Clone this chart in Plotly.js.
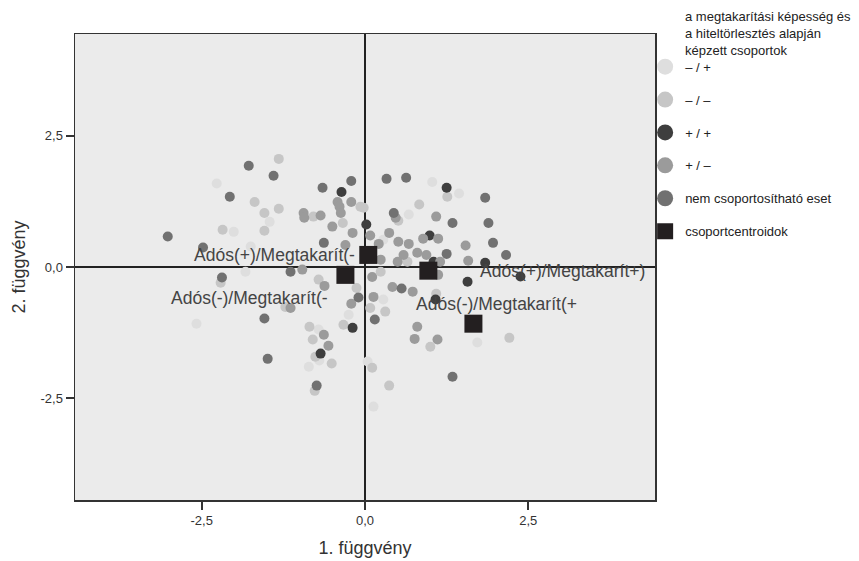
<!DOCTYPE html>
<html>
<head>
<meta charset="utf-8">
<script src="https://cdn.plot.ly/plotly-3.0.1.min.js"></script>
<style>html,body{margin:0;padding:0;background:#fff;}#chart{width:859px;height:561px;}</style>
</head>
<body>
<div id="chart"></div>
<script>
// Group names (legend)
const groupNames = ["\u2013 / +", "\u2013 / \u2013", "+ / +", "+ / \u2013", "nem csoportosítható eset", "csoportcentroidok"];

// – / +
const xMinusPlus = [-2.27,-1.46,-2.01,-1.75,1.03,1.44,0.67,0.28,-1.83,-2.58,-0.71,-0.70,-0.86,-0.25,0.28,1.72,0.04,0.13];
const yMinusPlus = [1.59,0.86,0.67,0.39,1.62,1.40,1.00,0.52,-0.09,-1.08,-1.19,-1.78,-1.90,-0.91,-0.62,-1.44,-1.80,-2.66];

// – / –
const xMinusMinus = [-1.32,-1.69,-1.32,-1.54,-1.54,-2.18,-0.79,-0.34,-0.07,1.26,-0.02,0.51,0.83,0.65,-2.21,-0.71,-1.22,-0.85,-0.80,-0.76,-0.51,-0.77,-0.33,1.09,0.08,0.31,1.00,2.21,0.11,0.37,-0.13,0.24];
const yMinusMinus = [2.06,1.24,1.11,1.03,0.69,0.71,0.96,0.84,1.15,1.34,1.13,0.88,1.19,0.10,-0.30,-0.24,-0.76,-1.14,-1.38,-1.71,-1.84,-2.36,-1.10,-0.51,-0.78,-0.85,-1.52,-1.35,-1.92,-2.26,-0.40,-0.09];

// + / +
const xPlusPlus = [-0.36,1.25,0.02,0.99,1.84,1.05,-0.68,-0.19,1.57,2.38,1.08];
const yPlusPlus = [1.43,1.51,0.81,0.60,0.08,0.10,-1.65,-1.16,-0.28,-0.18,-0.62];

// + / –
const xPlusMinus = [-0.94,-0.93,-0.68,-0.42,-0.39,-0.37,-0.21,-0.50,-0.19,-0.30,0.47,1.09,0.08,0.37,0.89,1.12,0.51,0.67,0.21,1.54,0.59,0.80,0.94,0.24,0.50,1.15,1.58,-0.96,-0.62,-1.14,-0.63,-0.56,-0.21,1.12,0.42,0.73,0.13,0.80,0.76,1.11,0.11];
const yPlusMinus = [1.03,0.94,0.98,1.24,1.15,1.03,1.24,0.77,0.65,0.42,0.94,0.96,0.60,0.65,0.54,0.54,0.48,0.44,0.44,0.41,0.23,0.27,0.23,0.14,0.10,0.10,0.12,-0.05,-0.36,-0.78,-1.29,-1.50,-0.70,-0.15,-0.38,-0.47,-0.57,-1.14,-1.37,-1.38,-0.19];

// nem csoportosítható eset
const xUngrouped = [-1.78,-1.40,-2.07,-3.02,-0.65,-0.21,-0.63,-2.48,0.33,0.63,1.84,0.44,1.34,1.89,1.96,1.25,2.16,-2.19,-1.14,-1.54,-1.49,-0.74,-0.10,0.56,0.15,1.34];
const yUngrouped = [1.93,1.74,1.34,0.58,1.51,1.64,0.46,0.37,1.68,1.70,1.32,1.03,0.84,0.84,0.46,0.25,0.23,-0.20,-0.09,-0.98,-1.75,-2.26,-0.58,-0.41,-1.00,-2.09];

// group centroids
const centroidX = [0.05, -0.30, 0.97, 1.66];
const centroidY = [0.23, -0.15, -0.07, -1.08];
const centroidLabels = ["Adós(+)/Megtakarít(-", "Adós(-)/Megtakarít(-", "Adós(+)/Megtakarít+)", "Adós(-)/Megtakarít(+"];

// axis ticks
const tickValues = [-2.5, 0, 2.5];
const tickLabels = ["-2,5", "0,0", "2,5"];

const colors = ["#dedede", "#c6c6c6", "#3e3e3e", "#9b9b9b", "#717171", "#231f20"];
const FONT = "Liberation Sans, Arial, sans-serif";

function pts(x, y, i) {
  return {
    type: "scatter", mode: "markers", x: x, y: y, name: groupNames[i],
    showlegend: false,
    marker: {color: colors[i], size: 10, symbol: "circle", line: {width: 0}}
  };
}
// legend entries (no data drawn, only the larger legend symbols)
function legendEntry(i, symbol) {
  return {
    type: "scatter", mode: "markers", x: [null], y: [null], name: groupNames[i],
    legendgroup: "g" + i, showlegend: true,
    marker: {color: colors[i], size: 22, symbol: symbol, line: {width: 0}}
  };
}

const traces = [
  pts(xMinusPlus, yMinusPlus, 0),
  pts(xMinusMinus, yMinusMinus, 1),
  pts(xPlusPlus, yPlusPlus, 2),
  pts(xPlusMinus, yPlusMinus, 3),
  pts(xUngrouped, yUngrouped, 4),
  {
    type: "scatter", mode: "markers", x: centroidX, y: centroidY, name: groupNames[5],
    showlegend: false,
    marker: {color: colors[5], size: 18, symbol: "square", line: {width: 0}}
  },
  legendEntry(0, "circle"), legendEntry(1, "circle"), legendEntry(2, "circle"),
  legendEntry(3, "circle"), legendEntry(4, "circle"), legendEntry(5, "square")
];

const labelOffsets = [
  {xanchor: "right", xshift: -11, yshift: 0},
  {xanchor: "right", xshift: -15, yshift: -23},
  {xanchor: "left", xshift: 50, yshift: 0},
  {xanchor: "left", xshift: -59, yshift: 20}
];

const annotations = centroidLabels.map((t, i) => ({
  x: centroidX[i], y: centroidY[i], xref: "x", yref: "y",
  text: t, showarrow: false,
  xanchor: labelOffsets[i].xanchor, yanchor: "middle",
  xshift: labelOffsets[i].xshift, yshift: labelOffsets[i].yshift,
  font: {family: FONT, size: 17.5, color: "#444"}
}));

annotations.push({
  xref: "paper", yref: "paper", x: 1.048, y: 1.058,
  xanchor: "left", yanchor: "top", align: "left", showarrow: false,
  text: "a megtakarítási képesség és<br>a hiteltörlesztés alapján<br>képzett csoportok",
  font: {family: FONT, size: 13, color: "#222"}
});

const axisCommon = {
  range: [-4.44, 4.44],
  tickvals: tickValues,
  ticktext: tickLabels,
  ticks: "outside", ticklen: 8, tickwidth: 2, tickcolor: "#333",
  showline: true, mirror: true, linecolor: "#333", linewidth: 1.5,
  showgrid: false,
  zeroline: true, zerolinecolor: "#222", zerolinewidth: 1.5,
  tickfont: {family: FONT, size: 13, color: "#333"},
  fixedrange: true
};

const layout = {
  width: 859, height: 561,
  margin: {l: 75, r: 204, t: 34, b: 61},
  paper_bgcolor: "#ffffff",
  plot_bgcolor: "#ebebeb",
  showlegend: true,
  font: {family: FONT, color: "#333"},
  xaxis: Object.assign({}, axisCommon, {
    title: {text: "1. függvény", font: {size: 18, color: "#333"}, standoff: 14}
  }),
  yaxis: Object.assign({}, axisCommon, {
    title: {text: "2. függvény", font: {size: 18, color: "#333"}, standoff: 10}
  }),
  legend: {
    x: 0.983, xanchor: "left", y: 0.962, yanchor: "top",
    bgcolor: "rgba(0,0,0,0)", borderwidth: 0,
    font: {family: FONT, size: 13, color: "#222"},
    tracegroupgap: 13, traceorder: "grouped"
  },
  annotations: annotations
};

Plotly.newPlot("chart", traces, layout, {displayModeBar: false, staticPlot: true});
</script>
</body>
</html>
